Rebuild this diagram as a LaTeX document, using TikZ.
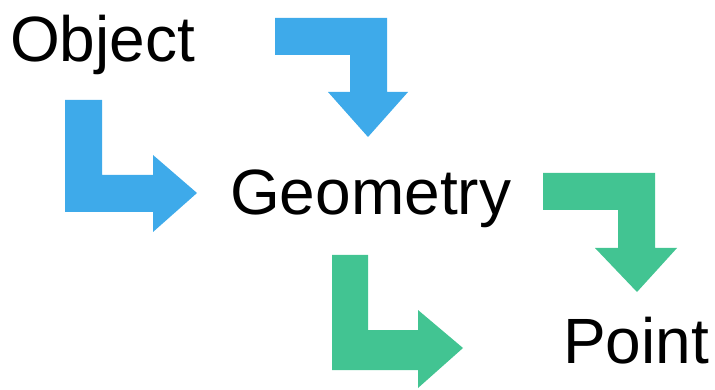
\documentclass[tikz,border=0pt]{standalone}
\usepackage{fontspec}
\setmainfont{Liberation Sans}
\usetikzlibrary{positioning}

\definecolor{flowblue}{RGB}{62,170,234}
\definecolor{flowgreen}{RGB}{66,196,146}

\begin{document}
\begin{tikzpicture}[
    x=1pt, y=-1pt,
    label/.style={inner sep=0pt, anchor=base west, font=\fontsize{64}{70}\selectfont},
    bluearrow/.style={fill=flowblue, draw=none},
    greenarrow/.style={fill=flowgreen, draw=none}
]
    \useasboundingbox (0,0) rectangle (715,390);

    % Labels
    \node[label] (object) at (10,62) {Object};
    \node[label] (geometry) at (230,215) {Geometry};
    \node[label] (point) at (563,363) {Point};

    % Object -> Geometry (blue)
    \fill[bluearrow] (275,18) -- (387,18) -- (387,92) -- (408,92) -- (368,137)
        -- (328,92) -- (350,92) -- (350,55) -- (275,55) -- cycle;
    \fill[bluearrow] (65,100) -- (102,100) -- (102,175) -- (153,175) -- (153,155)
        -- (197,193) -- (153,232) -- (153,212) -- (65,212) -- cycle;

    % Geometry -> Point (green)
    \fill[greenarrow] (543,173) -- (655,173) -- (655,248) -- (677,248) -- (637,292)
        -- (595,248) -- (618,248) -- (618,210) -- (543,210) -- cycle;
    \fill[greenarrow] (332,255) -- (368,255) -- (368,330) -- (418,330) -- (418,310)
        -- (463,348) -- (418,388) -- (418,370) -- (332,370) -- cycle;

\end{tikzpicture}
\end{document}
